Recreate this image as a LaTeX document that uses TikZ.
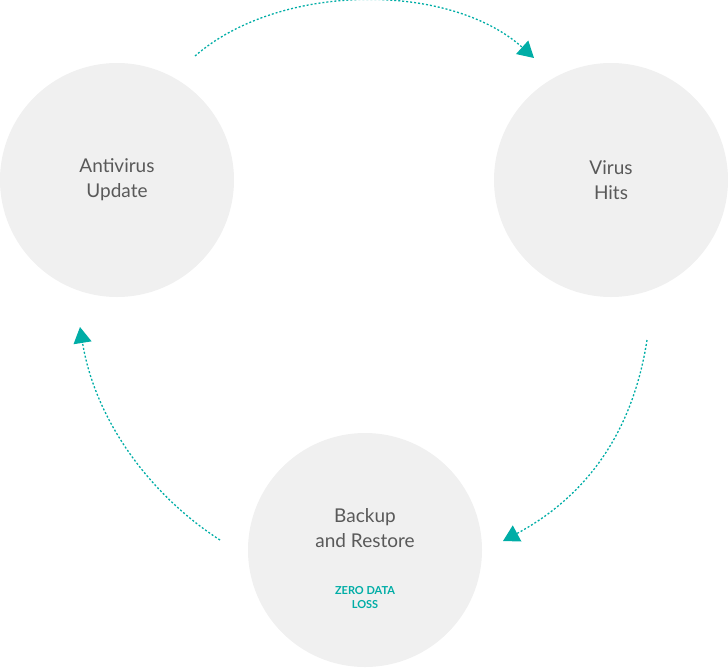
\documentclass[tikz,border=0pt]{standalone}
\usepackage{fontspec}
\setmainfont{Lato}
\usetikzlibrary{arrows.meta}
\definecolor{teal}{HTML}{00ADA6}
\definecolor{disc}{HTML}{F0F0F0}
\definecolor{ink}{HTML}{595959}
\begin{document}
\begin{tikzpicture}[x=1pt,y=-1pt]
  \tikzset{
    stage/.style={circle,fill=disc,minimum size=234pt,inner sep=0pt,align=center,
      text=ink,font=\fontsize{19}{25}\selectfont},
    cycle/.style={teal,line width=1.3pt,dash pattern=on 2pt off 2pt,
      -{Triangle[length=16pt,width=18pt,fill=teal,sep=0pt]}}
  }
  \useasboundingbox (0,0) rectangle (728,667);

  \node[stage] (AU) at (117,180) {Antivirus\\Update};
  \node[stage] (VH) at (611,180) {Virus\\Hits};
  \node[stage] (BR) at (365,550) {};
  \node[text=ink,font=\fontsize{19}{25}\selectfont,align=center] (BRt) at (365,528) {Backup\\and Restore};
  \node[text=teal,font=\bfseries\fontsize{11}{14}\selectfont,align=center] (ZD) at (365,598) {ZERO DATA\\LOSS};

  \coordinate (a1) at (195,56);
  \coordinate (a2) at (534,58);
  \coordinate (b1) at (647,340);
  \coordinate (b2) at (503,541);
  \coordinate (c1) at (220,540);
  \coordinate (c2) at (80,327);

  \draw[cycle] (a1) .. controls (280,-18) and (450,-18) .. (a2);
  \draw[cycle] (b1) .. controls (630,450) and (570,505) .. (b2);
  \draw[cycle] (c1) .. controls (150,495) and (95,420) .. (c2);
\end{tikzpicture}
\end{document}
